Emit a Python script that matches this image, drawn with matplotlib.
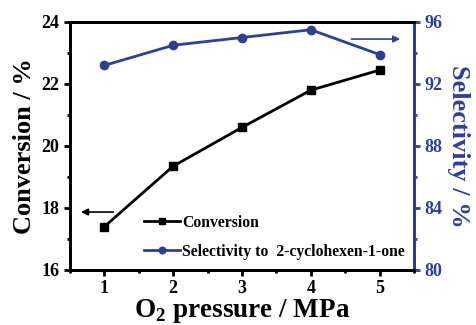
import matplotlib
matplotlib.use("Agg")
import matplotlib.pyplot as plt
from matplotlib.ticker import MultipleLocator

pressure = [1, 2, 3, 4, 5]
conversion = [17.4, 19.35, 20.6, 21.8, 22.45]
selectivity = [93.2, 94.5, 95.0, 95.5, 93.9]

BLUE = "#2e3f98"
plt.rcParams["font.family"] = ["Liberation Serif", "DejaVu Serif"]
plt.rcParams["font.weight"] = "bold"
plt.rcParams["mathtext.fontset"] = "custom"
plt.rcParams["mathtext.rm"] = "Liberation Serif:bold"
plt.rcParams["mathtext.bf"] = "Liberation Serif:bold"

fig = plt.figure(figsize=(4.77, 3.25), dpi=100)
ax = fig.add_axes([70/477, 1-270/325, 344/477, 248/325])
ax2 = ax.twinx()

l1, = ax.plot(pressure, conversion, color="black", marker="s", ms=6, lw=2)
l2, = ax2.plot(pressure, selectivity, color=BLUE, marker="o", ms=6, lw=2)

ax.set_xlim(0.5, 5.5)
ax.set_ylim(16, 24)
ax2.set_ylim(80, 96)
ax.xaxis.set_major_locator(MultipleLocator(1))
ax.xaxis.set_minor_locator(MultipleLocator(0.5))
ax.yaxis.set_major_locator(MultipleLocator(2))
ax.yaxis.set_minor_locator(MultipleLocator(1))
ax2.yaxis.set_major_locator(MultipleLocator(4))
ax2.yaxis.set_minor_locator(MultipleLocator(2))

for a in (ax, ax2):
    for s in a.spines.values():
        s.set_linewidth(2)
ax2.spines["right"].set_color(BLUE)
ax.tick_params(which="major", direction="out", length=4, width=2, labelsize=13)
ax.tick_params(which="minor", direction="out", length=2.5, width=2)
ax.tick_params(axis="x", which="both", top=False)
ax2.tick_params(which="major", direction="out", length=4, width=2, labelsize=13,
                colors=BLUE)
ax2.tick_params(which="minor", direction="out", length=2.5, width=2, colors=BLUE)
for lab in ax.get_xticklabels() + ax.get_yticklabels() + ax2.get_yticklabels():
    lab.set_fontweight("bold")

ax.set_xlabel("O$_{2}$ pressure / MPa", fontsize=19.5, fontweight="bold", labelpad=0)
ax.set_ylabel("Conversion / %", fontsize=19, fontweight="bold", labelpad=4)
ax2.set_ylabel("Selectivity / %", fontsize=19, fontweight="bold", color=BLUE,
               rotation=270, labelpad=20)

ax.annotate("", xy=(0.62, 17.87), xytext=(1.17, 17.87),
            arrowprops=dict(arrowstyle="-|>", color="black", lw=1.2,
                            mutation_scale=10))
ax2.annotate("", xy=(5.34, 94.9), xytext=(4.55, 94.9),
             arrowprops=dict(arrowstyle="-|>", color=BLUE, lw=1.2,
                             mutation_scale=10))

leg = ax.legend([l1, l2], ["Conversion", "Selectivity to  2-cyclohexen-1-one"],
                loc="center left", bbox_to_anchor=(0.215, 0.132), frameon=False,
                handlelength=2.3, handletextpad=0.15, labelspacing=0.8,
                borderpad=0, borderaxespad=0, markerscale=0.8,
                prop=dict(family="Liberation Serif", weight="bold", size=11.3))

fig.savefig("out.png", dpi=100)
